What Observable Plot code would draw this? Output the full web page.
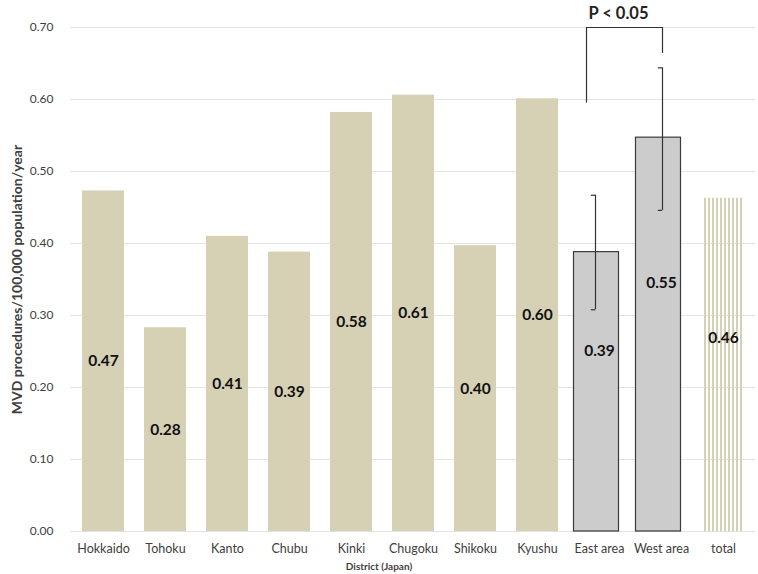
<!DOCTYPE html>
<html><head><meta charset="utf-8">
<script src="https://cdn.jsdelivr.net/npm/d3@7"></script>
<script src="https://cdn.jsdelivr.net/npm/@observablehq/plot@0.6"></script>
<style>
body{margin:0;background:#fff;font-family:Lato,sans-serif}
#cap{width:758px;text-align:center;font-weight:bold;font-size:10px;font-family:Lato,sans-serif;color:#404040;height:14px;line-height:12px}
</style></head><body><div id="chart"></div><div id="cap">District (Japan)</div>
<script>
const districts = ["Hokkaido","Tohoku","Kanto","Chubu","Kinki","Chugoku","Shikoku","Kyushu"];
const districtValues = [0.473,0.283,0.410,0.388,0.582,0.606,0.397,0.601];
const districtLabels = ["0.47","0.28","0.41","0.39","0.58","0.61","0.40","0.60"];
const areas = ["East area","West area"];
const areaValues = [0.388,0.547];
const areaLabels = ["0.39","0.55"];
const areaErrLow = [0.308,0.446];
const areaErrHigh = [0.467,0.644];
const totalNames = ["total"];
const totalValues = [0.463];
const totalLabels = ["0.46"];
const yTicks = [0,0.1,0.2,0.3,0.4,0.5,0.6,0.7];
const yTitle = "MVD procedures/100,000 population/year";
const pText = "P < 0.05";
const bracketTop = 0.70;
const bracketLegBottoms = [0.595, 0.664];

// styling constants (not data)
const TAN = "#d6d0b4", GRAY = "#cccccc", DARK = "#404040";
const labelFracArea = [0.645, 0.63];
const labelFracTotal = 0.58;
const errDx = [-4, 1];
const BW = 41.7; // approx band width in px

const domain = [...districts, ...areas, ...totalNames];
const dRows = districts.map((d,i)=>({name:d, value:districtValues[i], label:districtLabels[i], ly:districtValues[i]/2}));
const aRows = areas.map((d,i)=>({name:d, value:areaValues[i], label:areaLabels[i], ly:areaValues[i]*labelFracArea[i], lo:areaErrLow[i], hi:areaErrHigh[i]}));
const tRows = totalNames.map((d,i)=>({name:d, value:totalValues[i], label:totalLabels[i], ly:totalValues[i]*labelFracTotal}));

const errMarks = [];
aRows.forEach((r,i)=>{
  errMarks.push(Plot.ruleX([r], {x:"name", y1:"lo", y2:"hi", dx:errDx[i], stroke:"#333", strokeWidth:1.2}));
  errMarks.push(Plot.tickY([r], {x:"name", y:"lo", stroke:"#333", strokeWidth:1.2, insetLeft:BW/2+errDx[i]-4, insetRight:BW/2-errDx[i]}));
  errMarks.push(Plot.tickY([r], {x:"name", y:"hi", stroke:"#333", strokeWidth:1.2, insetLeft:BW/2+errDx[i]-4, insetRight:BW/2-errDx[i]}));
});

const bracket = [
  Plot.ruleX([{x:areas[0], y1:bracketLegBottoms[0], y2:bracketTop}], {x:"x", y1:"y1", y2:"y2", dx:-13, stroke:"#333", strokeWidth:1.2}),
  Plot.ruleX([{x:areas[1], y1:bracketLegBottoms[1], y2:bracketTop}], {x:"x", y1:"y1", y2:"y2", dx:1, stroke:"#333", strokeWidth:1.2}),
  Plot.link([{x1:areas[0], x2:areas[1], y:bracketTop}], {x1:"x1", x2:"x2", y1:"y", y2:"y", dx:-13, stroke:"#333", strokeWidth:1.2}),
  Plot.link([{x1:areas[0], x2:areas[1], y:bracketTop}], {x1:"x1", x2:"x2", y1:"y", y2:"y", dx:1, stroke:"#333", strokeWidth:1.2}),
  Plot.text([{x:areas[1], y:0.7194, t:pText}], {x:"x", y:"y", text:"t", dx:-43, fontSize:16.5, fontWeight:"bold", fill:"#222"})
];

const svg = Plot.plot({
  width:758, height:560,
  marginTop:27, marginBottom:29, marginLeft:70, marginRight:3,
  style:{fontFamily:"Lato, sans-serif", color:DARK, background:"white"},
  x:{domain, paddingInner:0.33, paddingOuter:0.165},
  y:{domain:[0,0.7]},
  marks:[
    Plot.ruleY(yTicks, {stroke:"#e3e3e3", strokeWidth:1}),
    Plot.barY(dRows, {x:"name", y:"value", fill:TAN}),
    Plot.barY(aRows, {x:"name", y:"value", fill:GRAY, stroke:"#3a3a3a", strokeWidth:1.2, dx:-3, insetLeft:-1.5, insetRight:-1.5}),
    Plot.barY(tRows, {x:"name", y:"value", fill:"url(#stripes)"}),
    ...errMarks,
    Plot.text([...dRows, ...aRows, ...tRows], {x:"name", y:"ly", text:"label", fontSize:15.5, fontWeight:"bold", fill:"#111"}),
    ...bracket,
    Plot.axisY({ticks:yTicks, tickFormat:d3.format(".2f"), tickSize:0, tickPadding:17, fontSize:12, label:null}),
    Plot.text([yTitle], {frameAnchor:"left", textAnchor:"middle", rotate:-90, dx:-53, fontSize:14, fontWeight:"bold", fill:DARK}),
    Plot.axisX({tickSize:0, tickPadding:13, fontSize:12.5, label:null})
  ]
});
const ns = "http://www.w3.org/2000/svg";
const defs = document.createElementNS(ns, "defs");
defs.innerHTML = `<pattern id="stripes" patternUnits="userSpaceOnUse" x="0" y="0" width="4" height="10"><rect x="0" y="0" width="2" height="10" fill="${TAN}"/></pattern>`;
svg.insertBefore(defs, svg.firstChild);
document.getElementById("chart").appendChild(svg);
</script></body></html>
